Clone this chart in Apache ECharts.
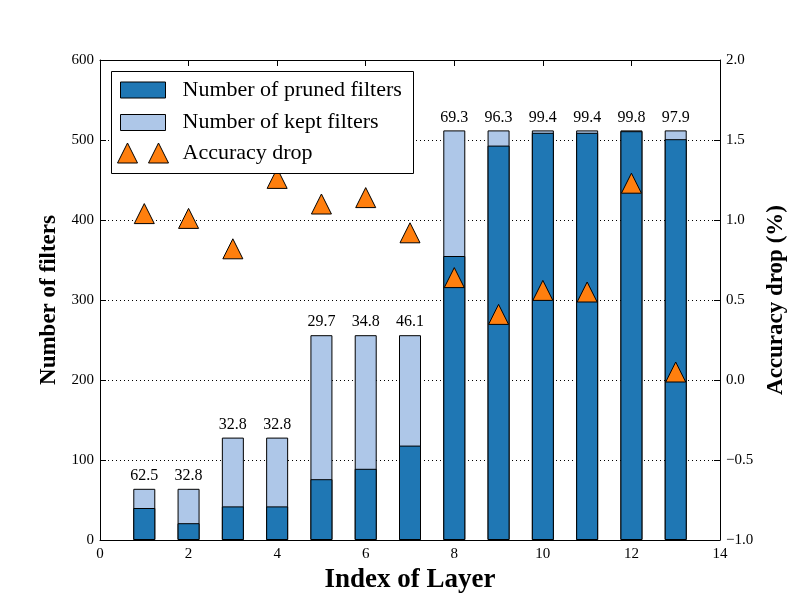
<!DOCTYPE html>
<html>
<head>
<meta charset="utf-8">
<script src="https://cdn.jsdelivr.net/npm/echarts@6/dist/echarts.min.js"></script>
<style>html,body{margin:0;padding:0;background:#fff}#c{width:800px;height:600px}</style>
</head>
<body>
<div id="c"></div>
<script>
const layers = [1, 2, 3, 4, 5, 6, 7, 8, 9, 10, 11, 12, 13];
const pruned = [40, 21, 42, 42, 76, 89, 118, 355, 493, 509, 509, 511, 501];
const total = [64, 64, 128, 128, 256, 256, 256, 512, 512, 512, 512, 512, 512];
const prunedPct = ['62.5', '32.8', '32.8', '32.8', '29.7', '34.8', '46.1', '69.3', '96.3', '99.4', '99.4', '99.8', '97.9'];
const accDrop = [1.04, 1.01, 0.82, 1.26, 1.10, 1.14, 0.92, 0.64, 0.41, 0.56, 0.55, 1.23, 0.05];

const FONT = 'Liberation Serif';
const chart = echarts.init(document.getElementById('c'));
const tickLbl = {fontFamily: FONT, fontSize: 15, color: '#000'};
const axLine = {show: true, onZero: false, lineStyle: {color: '#000', width: 1}};
const axTick = {show: true, inside: true, length: 6, lineStyle: {color: '#000', width: 1}};

chart.setOption({
  animation: false,
  backgroundColor: '#fff',
  grid: {left: 100, right: 80, top: 60, bottom: 60},
  xAxis: [
    {type: 'value', min: 0, max: 14, interval: 2, position: 'bottom',
     name: 'Index of Layer', nameLocation: 'middle', nameGap: 26,
     nameTextStyle: {fontFamily: FONT, fontSize: 27, fontWeight: 'bold', color: '#000', verticalAlign: 'top'},
     axisLine: axLine, axisTick: axTick, splitLine: {show: false},
     axisLabel: Object.assign({margin: 7}, tickLbl)},
    {type: 'value', min: 0, max: 14, interval: 2, position: 'top',
     axisLine: axLine, axisTick: axTick, splitLine: {show: false},
     axisLabel: {show: false}}
  ],
  yAxis: [
    {type: 'value', min: 0, max: 600, interval: 100, position: 'left',
     name: 'Number of filters', nameLocation: 'middle', nameGap: 38,
     nameTextStyle: {fontFamily: FONT, fontSize: 23, fontWeight: 'bold', color: '#000'},
     axisLine: axLine, axisTick: axTick,
     splitLine: {show: true, lineStyle: {color: '#000', width: 1, type: [1, 3]}},
     axisLabel: Object.assign({margin: 6}, tickLbl)},
    {type: 'value', min: -1, max: 2, interval: 0.5, position: 'right',
     name: 'Accuracy drop (%)', nameLocation: 'middle', nameGap: 41,
     nameTextStyle: {fontFamily: FONT, fontSize: 23, fontWeight: 'bold', color: '#000'},
     axisLine: axLine, axisTick: axTick, splitLine: {show: false},
     axisLabel: Object.assign({margin: 6, formatter: v => v.toFixed(1).replace('-', '\u2212')}, tickLbl)}
  ],
  graphic: [{
    type: 'rect', z: 10, left: 111, top: 71,
    shape: {width: 302, height: 102},
    style: {fill: '#fff', stroke: '#000', lineWidth: 1}
  }],
  legend: [
    {z: 11, left: 120, top: 79, orient: 'vertical', padding: 0, itemGap: 10.5,
     itemWidth: 45, itemHeight: 16,
     textStyle: {fontFamily: FONT, fontSize: 22, color: '#000', lineHeight: 20, padding: [0, 0, 0, 12]},
     data: [
       {name: 'Number of pruned filters', icon: 'rect', itemStyle: {color: '#1f77b4', borderColor: '#000', borderWidth: 1}},
       {name: 'Number of kept filters', icon: 'rect', itemStyle: {color: '#aec7e8', borderColor: '#000', borderWidth: 1}}
     ]},
    {z: 11, left: 117, top: 142, orient: 'vertical', padding: 0,
     itemWidth: 51, itemHeight: 20,
     textStyle: {fontFamily: FONT, fontSize: 22, color: '#000', lineHeight: 20, padding: [0, 0, 0, 9]},
     data: [
       {name: 'Accuracy drop', icon: 'path://M0,20 L10,0 L20,20 Z M31,20 L41,0 L51,20 Z',
        itemStyle: {color: '#ff7f0e', borderColor: '#000', borderWidth: 1}}
     ]}
  ],
  series: [
    {name: 'Number of kept filters', type: 'bar', barWidth: 22, barGap: '-100%',
     xAxisIndex: 0, yAxisIndex: 0,
     itemStyle: {color: '#aec7e8', borderColor: '#000', borderWidth: 1},
     label: {show: true, position: 'top', distance: 5, fontFamily: FONT, fontSize: 16, color: '#000',
             formatter: p => prunedPct[p.dataIndex]},
     data: layers.map((l, i) => [l, total[i]])},
    {name: 'Number of pruned filters', type: 'bar', barWidth: 22, barGap: '-100%',
     xAxisIndex: 0, yAxisIndex: 0,
     itemStyle: {color: '#1f77b4', borderColor: '#000', borderWidth: 1},
     data: layers.map((l, i) => [l, pruned[i]])},
    {name: 'Accuracy drop', type: 'scatter', xAxisIndex: 0, yAxisIndex: 1, z: 3,
     symbol: 'triangle', symbolSize: 20,
     itemStyle: {color: '#ff7f0e', borderColor: '#000', borderWidth: 1, opacity: 1},
     data: layers.map((l, i) => [l, accDrop[i]])}
  ]
});
</script>
</body>
</html>
